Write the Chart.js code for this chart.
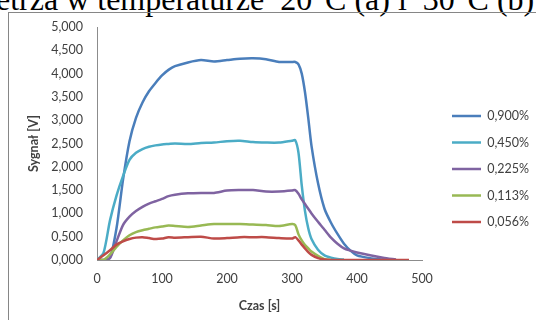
<!DOCTYPE html>
<html>
<head>
<meta charset="utf-8">
<script src="https://cdn.jsdelivr.net/npm/chart.js@4/dist/chart.umd.min.js"></script>
<style>
  html, body { margin: 0; padding: 0; background: #fff; overflow: hidden; }
  #page { position: relative; width: 536px; height: 320px; overflow: hidden; }
  #caption { position: absolute; left: -4px; top: -17px; font-size: 32px; line-height: 32px; font-family: "Liberation Serif", serif; white-space: nowrap; color: #000; }
  #frame { position: absolute; left: 8px; top: 12px; width: 600px; height: 400px; border: 1px solid #868686; }
  #chart-wrap { position: absolute; left: 0; top: 0; width: 536px; height: 320px; }
</style>
</head>
<body>
<div id="page">
  <div id="caption">etrza w temperaturze&nbsp; 20°C (a) i&nbsp; 30°C (b)</div>
  <div id="frame"></div>
  <div id="chart-wrap"><canvas id="chart-1" width="536" height="320"></canvas></div>
</div>
<script>
// time axis [s] shared by all series, null = no reading
const times = [0, 10, 20, 30, 40, 50, 60, 70, 80, 90, 100, 110, 120, 140, 160, 180, 200, 220, 240, 260, 280, 300,
  305, 310, 315, 320, 325, 330, 340, 350, 360, 370, 380, 390, 400, 420, 440, 460, 480];

const conc0900 = [0, 0, 0.05, 0.68, 1.72, 2.55, 3.05, 3.38, 3.62, 3.8, 3.96, 4.08, 4.16, 4.24, 4.29, 4.26, 4.29, 4.32, 4.33, 4.31, 4.25, 4.25,
  4.25, 4.2, 4.0, 3.6, 3.05, 2.45, 1.65, 1.1, 0.8, 0.56, 0.35, 0.2, 0.1, 0.04, 0.01, null, null];
const conc0450 = [0, 0.15, 0.85, 1.38, 1.8, 2.15, 2.3, 2.38, 2.43, 2.46, 2.48, 2.49, 2.5, 2.49, 2.51, 2.52, 2.55, 2.56, 2.53, 2.52, 2.52, 2.56,
  2.57, 2.3, 1.6, 1.05, 0.68, 0.45, 0.22, 0.1, 0.05, 0.02, 0.01, null, null, null, null, null, null];
const conc0225 = [0, 0, 0.04, 0.4, 0.75, 0.93, 1.05, 1.14, 1.21, 1.26, 1.31, 1.37, 1.4, 1.43, 1.44, 1.44, 1.49, 1.5, 1.5, 1.47, 1.47, 1.49,
  1.5, 1.42, 1.3, 1.2, 1.1, 1.0, 0.82, 0.65, 0.48, 0.35, 0.25, 0.2, 0.16, 0.1, 0.05, 0.01, null];
const conc0113 = [0, 0, 0.12, 0.28, 0.42, 0.53, 0.6, 0.64, 0.67, 0.7, 0.72, 0.74, 0.73, 0.71, 0.74, 0.77, 0.77, 0.77, 0.76, 0.75, 0.73, 0.77,
  0.75, 0.55, 0.42, 0.32, 0.25, 0.18, 0.09, 0.02, 0, null, null, null, null, null, null, null, null];
const conc0056 = [0, 0.1, 0.21, 0.33, 0.4, 0.45, 0.48, 0.49, 0.47, 0.45, 0.46, 0.49, 0.48, 0.49, 0.5, 0.46, 0.47, 0.49, 0.49, 0.49, 0.47, 0.46,
  0.49, 0.42, 0.33, 0.25, 0.17, 0.11, 0.04, 0.01, 0, 0, 0, 0, 0, 0, 0, 0, 0];

const seriesLabels = ["0,900%", "0,450%", "0,225%", "0,113%", "0,056%"];
const seriesValues = [conc0900, conc0450, conc0225, conc0113, conc0056];
const colors = ["#4a7ebb", "#4bacc6", "#7f63a1", "#98b954", "#be4b48"];

const yTicks = { min: 0, max: 5, step: 0.5 };
const xTicks = { min: 0, max: 500, step: 100 };

const toPoints = (vals) =>
  times.map((t, i) => ({ x: t, y: vals[i] })).filter((p) => p.y !== null);

Chart.defaults.font.family = "Lato";
Chart.defaults.font.size = 12.5;
Chart.defaults.color = "#404040";

new Chart(document.querySelector("#chart-1"), {
  type: "line",
  data: {
    datasets: seriesLabels.map((label, i) => ({
      label: label,
      data: toPoints(seriesValues[i]),
      borderColor: colors[i],
      backgroundColor: colors[i],
      borderWidth: 2.5,
      pointRadius: 0,
      tension: 0.25,
      order: seriesLabels.length - i,
    })),
  },
  options: {
    responsive: false,
    animation: false,
    layout: { padding: { left: 0, top: 27, right: 0, bottom: 9 } },
    plugins: {
      tooltip: { enabled: false },
      legend: {
        position: "right",
        align: "center",
        reverse: true,
        maxWidth: 98,
        labels: {
          usePointStyle: true,
          pointStyle: "line",
          pointStyleWidth: 29,
          padding: 14,
          color: "#404040",
        },
      },
    },
    scales: {
      x: {
        type: "linear",
        min: xTicks.min,
        max: xTicks.max,
        grid: { display: false, drawTicks: false },
        border: { color: "#8c8c8c" },
        ticks: { stepSize: xTicks.step, padding: 11.5, maxRotation: 0 },
        title: {
          display: true,
          text: "Czas [s]",
          font: { weight: "bold" },
          padding: { top: 0, bottom: -2 },
        },
        afterFit: (scale) => {
          scale.height = 51;
        },
      },
      y: {
        min: yTicks.min,
        max: yTicks.max,
        grid: { display: false, drawTicks: false },
        border: { color: "#8c8c8c" },
        ticks: {
          stepSize: yTicks.step,
          padding: 14,
          callback: (v) => v.toFixed(3).replace(".", ","),
        },
        title: {
          display: true,
          text: "Sygnał [V]",
          font: { weight: "bold" },
          padding: { top: 26.5, bottom: 0 },
        },
        afterFit: (scale) => {
          scale.width = 97;
        },
      },
      // empty spacer between plot and legend
      gap: {
        type: "linear",
        position: "right",
        display: true,
        grid: { display: false, drawTicks: false },
        border: { display: false },
        ticks: { display: false },
        afterFit: (scale) => {
          scale.width = 16;
        },
      },
    },
  },
});
</script>
</body>
</html>
